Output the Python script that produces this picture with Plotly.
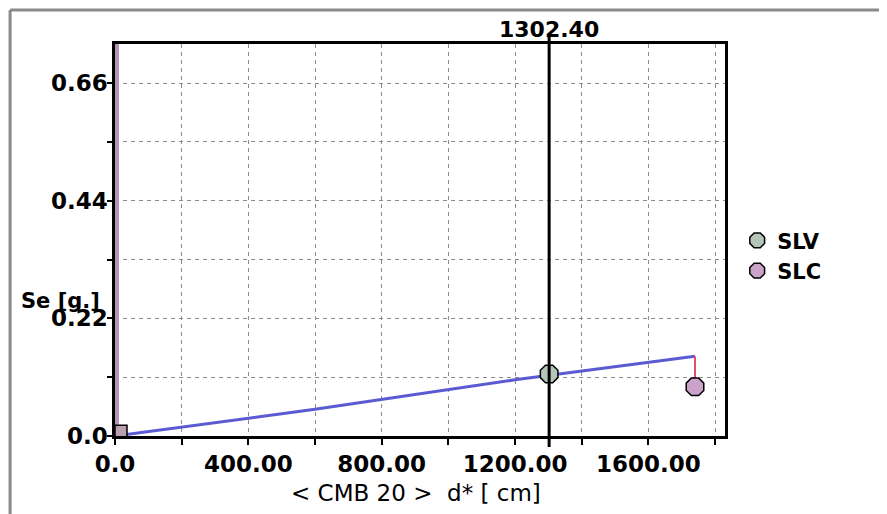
import plotly.graph_objects as go

# ---- data ----
x_tick_vals = [0, 400, 800, 1200, 1600]
x_tick_text = ["0.0", "400.00", "800.00", "1200.00", "1600.00"]
y_tick_vals = [0, 0.22, 0.44, 0.66]
y_tick_text = ["0.0", "0.22", "0.44", "0.66"]

capacity_d = [0, 600, 1200, 1740]
capacity_se = [0.0, 0.050, 0.105, 0.149]

drop_d = [1740, 1740]
drop_se = [0.149, 0.092]

spectrum_d = [6, 6]
spectrum_se = [0.0, 0.80]

origin_d = [18]
origin_se = [0.009]

slv_d = [1302.4]
slv_se = [0.116]
slc_d = [1740]
slc_se = [0.092]

d_star = 1302.40
x_range = [0, 1830]
y_range = [0, 0.733]

FONT = "DejaVu Sans"

fig = go.Figure()

fig.add_trace(go.Scatter(x=spectrum_d, y=spectrum_se, mode="lines",
                         line=dict(color="#b494b4", width=4), showlegend=False, hoverinfo="skip"))
fig.add_trace(go.Scatter(x=capacity_d, y=capacity_se, mode="lines",
                         line=dict(color="#5a5ad2", width=3), showlegend=False))
fig.add_trace(go.Scatter(x=drop_d, y=drop_se, mode="lines",
                         line=dict(color="#e0506a", width=2), showlegend=False))
fig.add_trace(go.Scatter(x=origin_d, y=origin_se, mode="markers",
                         marker=dict(symbol="square", size=12, color="#b8a0b0",
                                     line=dict(color="black", width=1.5)),
                         showlegend=False))
fig.add_trace(go.Scatter(x=slv_d, y=slv_se, mode="markers", name="SLV",
                         marker=dict(symbol="octagon", size=19, color="#b4c6b8",
                                     line=dict(color="black", width=1.5))))
fig.add_trace(go.Scatter(x=slc_d, y=slc_se, mode="markers", name="SLC",
                         marker=dict(symbol="octagon", size=19, color="#caa2ca",
                                     line=dict(color="black", width=1.5))))

# vertical line at d*
fig.add_shape(type="line", xref="x", yref="paper", x0=d_star, x1=d_star,
              y0=-0.028, y1=1.026, line=dict(color="black", width=3))

grid = dict(showgrid=True, gridcolor="#8c8c8c", gridwidth=1, griddash="4px,4px")

fig.update_xaxes(range=x_range, tickvals=x_tick_vals, ticktext=x_tick_text,
                 ticks="outside", ticklen=6, tickwidth=2, tickcolor="black",
                 showline=True, linecolor="black", linewidth=2.5, mirror=True,
                 zeroline=False,
                 tickfont=dict(family=FONT, size=23, color="black", weight="bold"),
                 minor=dict(dtick=200, tick0=0, ticks="outside", ticklen=6,
                            tickwidth=2, tickcolor="black", **grid),
                 **grid)
fig.update_yaxes(range=y_range, tickvals=y_tick_vals, ticktext=y_tick_text,
                 ticks="outside", ticklen=5, tickwidth=2, tickcolor="black",
                 showline=True, linecolor="black", linewidth=2.5, mirror=True,
                 zeroline=False, ticklabelstandoff=-5,
                 tickfont=dict(family=FONT, size=23, color="black", weight="bold"),
                 minor=dict(dtick=0.11, tick0=0, ticks="outside", ticklen=5,
                            tickwidth=2, tickcolor="black", **grid),
                 **grid)

annotations = [
    dict(text="1302.40", xref="x", yref="paper", x=d_star, y=1.036,
         xanchor="center", yanchor="middle", showarrow=False,
         font=dict(family=FONT, size=22, color="black", weight="bold")),
    dict(text="Se [g.]", xref="paper", yref="paper", x=-0.157, y=0.345,
         xanchor="left", yanchor="middle", showarrow=False,
         font=dict(family=FONT, size=21, color="black", weight="bold")),
    dict(text="&lt; CMB 20 &gt;\u00a0\u00a0d* [ cm]", xref="paper", yref="paper",
         x=0.493, y=-0.145, xanchor="center", yanchor="middle", showarrow=False,
         font=dict(family=FONT, size=23, color="black")),
]

fig.update_layout(
    width=887, height=514,
    margin=dict(l=107, r=170, t=36, b=86),
    paper_bgcolor="white", plot_bgcolor="white",
    showlegend=True,
    legend=dict(x=1.02, y=0.46, xanchor="left", yanchor="middle",
                bgcolor="rgba(0,0,0,0)",
                font=dict(family=FONT, size=21, color="black", weight="bold"),
                tracegroupgap=0, itemwidth=30),
    annotations=annotations,
    shapes=list(fig.layout.shapes) + [
        dict(type="line", xref="paper", yref="paper",
             x0=-0.172, x1=1.4, y0=1.0867, y1=1.0867,
             line=dict(color="#8a8a8a", width=3), layer="below"),
        dict(type="line", xref="paper", yref="paper",
             x0=-0.172, x1=-0.172, y0=-0.35, y1=1.0867,
             line=dict(color="#8a8a8a", width=3), layer="below"),
    ],
)

fig.write_html("out.html")
